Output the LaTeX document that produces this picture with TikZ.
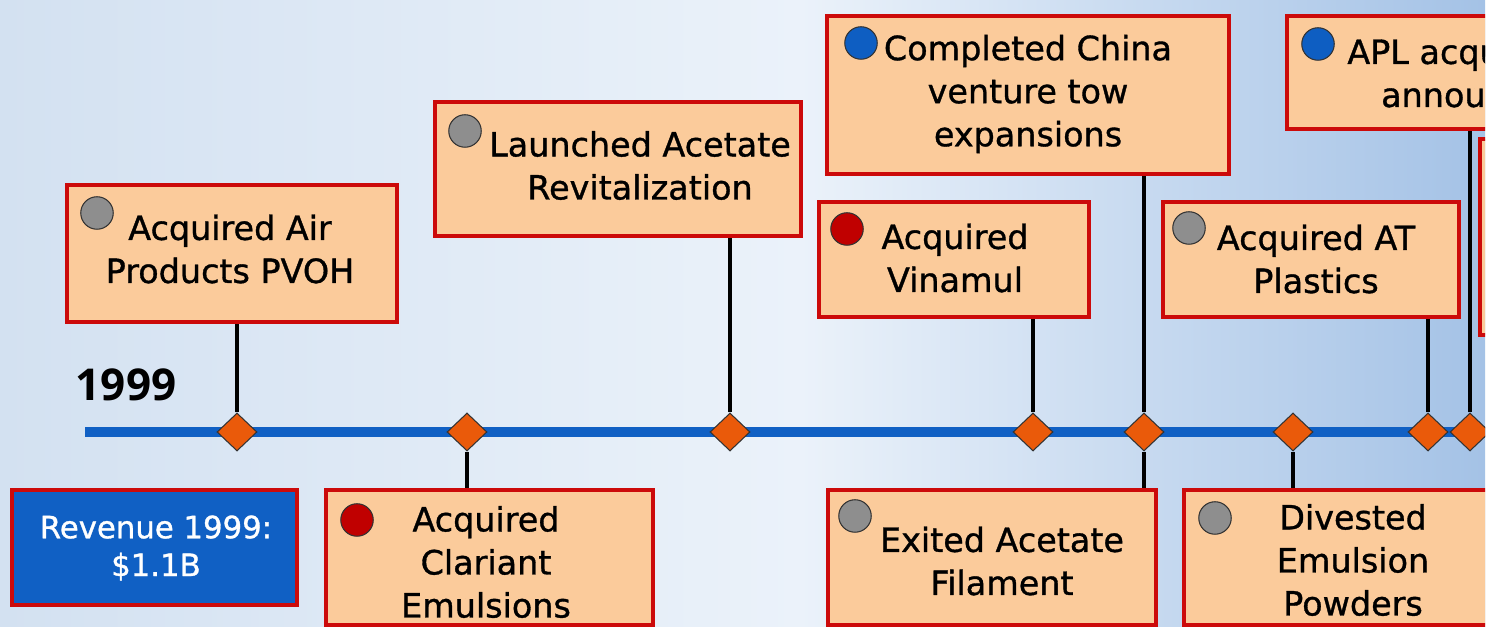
\documentclass[tikz,border=0pt]{standalone}
\usepackage{fontspec}
\setmainfont{DejaVu Sans}[FakeBold=1]
\newfontfamily\yearfont{Open Sans}
\usetikzlibrary{shapes.geometric}

\definecolor{boxfill}{HTML}{FBCB9B}
\definecolor{boxred}{HTML}{CC0A0A}
\definecolor{lineblue}{HTML}{1060C4}
\definecolor{markorange}{HTML}{EA5A0A}
\definecolor{dotgray}{HTML}{8E8E8E}
\definecolor{dotred}{HTML}{C00000}
\definecolor{dotblue}{HTML}{0E5EC2}
\definecolor{bgleft}{HTML}{D3E1F1}
\definecolor{bgmid}{HTML}{EBF2FA}
\definecolor{bgright}{HTML}{A4C2E6}

\begin{document}
\begin{tikzpicture}[
  eventbox/.style={draw=boxred, fill=boxfill, line width=2.2pt, inner sep=0pt},
  eventtext/.style={align=center, font=\fontsize{19}{24.5}\selectfont, inner sep=0pt},
  marker/.style={diamond, draw=black!80, fill=markorange, line width=0.6pt, minimum width=0.80cm, minimum height=0.76cm, inner sep=0pt},
  bullet/.style={circle, draw=black!80, line width=0.6pt, minimum size=0.65cm, inner sep=0pt},
  stem/.style={line width=2pt, black}]
% Set the picture size
\def\picwidth{29.94}
\def\picheight{12.54}
\useasboundingbox (0,0) rectangle (\picwidth,\picheight);
\fill[white] (0,0) rectangle (\picwidth,\picheight);

\begin{scope}
\clip (0,0) rectangle (29.70,\picheight);
% Background
\shade[left color=bgleft, right color=bgmid] (0,0) rectangle (16.01,\picheight);
\shade[left color=bgmid, right color=bgright] (16,0) rectangle (29.70,\picheight);

% The boxes above the line
\node[eventbox, minimum width=6.60cm, minimum height=2.74cm] (pvoh) at (4.64, 7.47) {};
\node[eventtext] (pvohtext) at (4.60, 7.56) {Acquired Air\\Products PVOH};
\node[bullet, fill=dotgray] (pvohdot) at (1.94, 8.28) {};
\node[eventbox, minimum width=7.32cm, minimum height=2.68cm] (acetate) at (12.36, 9.16) {};
\node[eventtext] (acetatetext) at (12.80, 9.23) {Launched Acetate\\Revitalization};
\node[bullet, fill=dotgray] (acetatedot) at (9.30, 9.92) {};
\node[eventbox, minimum width=8.04cm, minimum height=3.16cm] (china) at (20.56, 10.64) {};
\node[eventtext] (chinatext) at (20.56, 10.66) {Completed China\\venture tow\\expansions};
\node[bullet, fill=dotblue] (chinadot) at (17.22, 11.68) {};
\node[eventbox, minimum width=5.40cm, minimum height=2.30cm] (vinamul) at (19.08, 7.35) {};
\node[eventtext] (vinamultext) at (19.10, 7.38) {Acquired\\Vinamul};
\node[bullet, fill=dotred] (vinamuldot) at (16.94, 7.96) {};
\node[eventbox, minimum width=5.92cm, minimum height=2.30cm] (atplastics) at (26.22, 7.35) {};
\node[eventtext] (atplasticstext) at (26.32, 7.36) {Acquired AT\\Plastics};
\node[bullet, fill=dotgray] (atplasticsdot) at (23.78, 7.98) {};
\node[eventbox, minimum width=7.48cm, minimum height=2.26cm] (apl) at (29.48, 11.09) {};
\node[eventtext] (apltext) at (29.48, 11.08) {APL acquisition\\announced};
\node[bullet, fill=dotblue] (apldot) at (26.36, 11.66) {};
\node[eventbox, minimum width=4.40cm, minimum height=3.92cm] (nextbox) at (31.80, 7.80) {};

% The boxes below the line
\node[eventbox, fill=lineblue, minimum width=5.70cm, minimum height=2.30cm] (revenue) at (3.09, 1.59) {};
\node[eventtext, text=white, font=\fontsize{17.5}{21.5}\selectfont] (revenuetext) at (3.12, 1.58) {Revenue 1999:\\\$1.1B};
\node[eventbox, minimum width=6.54cm, minimum height=2.70cm] (clariant) at (9.79, 1.39) {};
\node[eventtext] (clarianttext) at (9.72, 1.30) {Acquired\\Clariant\\Emulsions};
\node[bullet, fill=dotred] (clariantdot) at (7.14, 2.14) {};
\node[eventbox, minimum width=6.56cm, minimum height=2.70cm] (filament) at (19.84, 1.39) {};
\node[eventtext] (filamenttext) at (20.04, 1.32) {Exited Acetate\\Filament};
\node[bullet, fill=dotgray] (filamentdot) at (17.10, 2.22) {};
\node[eventbox, minimum width=6.76cm, minimum height=2.70cm] (powders) at (27.06, 1.39) {};
\node[eventtext] (powderstext) at (27.06, 1.34) {Divested\\Emulsion\\Powders};
\node[bullet, fill=dotgray] (powdersdot) at (24.30, 2.18) {};

% The time line
\node[font=\yearfont\bfseries\fontsize{25}{30}\selectfont, inner sep=0pt] (year) at (2.52, 4.84) {1999};
\coordinate (linestart) at (1.70, 3.90);
\coordinate (lineend) at (30.00, 3.90);
\draw[lineblue, line width=6pt] (linestart) -- (lineend);

\node[marker] (d1) at (4.74, 3.90) {};
\node[marker] (d2) at (9.34, 3.90) {};
\node[marker] (d3) at (14.60, 3.90) {};
\node[marker] (d4) at (20.66, 3.90) {};
\node[marker] (d5) at (22.88, 3.90) {};
\node[marker] (d6) at (25.86, 3.90) {};
\node[marker] (d7) at (28.56, 3.90) {};
\node[marker] (d8) at (29.40, 3.90) {};

% Connect the boxes to the markers
\draw[stem] (d1.north) -- (d1 |- pvoh.south);
\draw[stem] (d2.south) -- (d2 |- clariant.north);
\draw[stem] (d3.north) -- (d3 |- acetate.south);
\draw[stem] (d4.north) -- (d4 |- vinamul.south);
\draw[stem] (d5.north) -- (d5 |- china.south);
\draw[stem] (d5.south) -- (d5 |- filament.north);
\draw[stem] (d6.south) -- (d6 |- powders.north);
\draw[stem] (d7.north) -- (d7 |- atplastics.south);
\draw[stem] (d8.north) -- (d8 |- apl.south);
\end{scope}
\end{tikzpicture}
\end{document}
